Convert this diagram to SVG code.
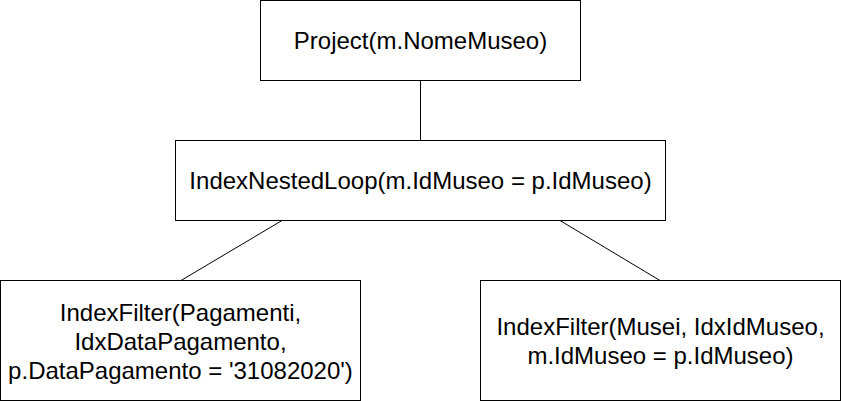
<svg xmlns="http://www.w3.org/2000/svg" width="841" height="401" viewBox="0 0 841 401">
<style>
.box{fill:#ffffff;stroke:#000000;stroke-width:1}
.lbl{font-family:"Liberation Sans",Arial,Helvetica,sans-serif;font-size:24px;fill:#000000;text-anchor:middle}
.edge{stroke:#000000;stroke-width:1;fill:none}
</style>
<rect x="0" y="0" width="841" height="401" fill="#ffffff"/>
<g id="connectors">
<line class="edge" x1="420.5" y1="80.5" x2="420.5" y2="140.5"/>
<line class="edge" x1="282" y1="220.5" x2="181" y2="280.5"/>
<line class="edge" x1="560" y1="220.5" x2="660" y2="280.5"/>
</g>
<g id="project">
<rect class="box" x="260.5" y="0.5" width="320" height="80"/>
<text class="lbl" x="420.5" y="48.5">Project(m.NomeMuseo)</text>
</g>
<g id="indexNestedLoop">
<rect class="box" x="175.5" y="140.5" width="490" height="80"/>
<text class="lbl" x="420.5" y="188.5">IndexNestedLoop(m.IdMuseo = p.IdMuseo)</text>
</g>
<g id="indexFilterPagamenti">
<rect class="box" x="0.5" y="280.5" width="360" height="120"/>
<text class="lbl" x="180.5" y="321">IndexFilter(Pagamenti,</text>
<text class="lbl" x="180.5" y="349.8">IdxDataPagamento,</text>
<text class="lbl" x="180.5" y="378.6">p.DataPagamento = '31082020')</text>
</g>
<g id="indexFilterMusei">
<rect class="box" x="480.5" y="280.5" width="360" height="120"/>
<text class="lbl" x="660.5" y="335">IndexFilter(Musei, IdxIdMuseo,</text>
<text class="lbl" x="660.5" y="363.8">m.IdMuseo = p.IdMuseo)</text>
</g>
</svg>
